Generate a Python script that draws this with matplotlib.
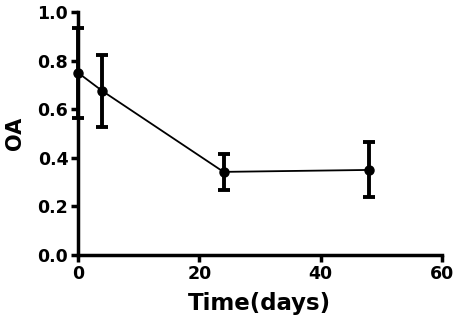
import matplotlib
matplotlib.use("Agg")
import matplotlib.pyplot as plt

time_days = [0, 4, 24, 48]
oa_mean = [0.75, 0.675, 0.342, 0.35]
oa_err = [0.185, 0.147, 0.075, 0.113]
x_ticks = [0, 20, 40, 60]
y_ticks = [0.0, 0.2, 0.4, 0.6, 0.8, 1.0]

plt.rcParams['font.family'] = ['DejaVu Sans']
plt.rcParams['font.weight'] = 'bold'

fig = plt.figure(figsize=(4.56, 3.22), dpi=100)
ax = fig.add_axes([0.171, 0.208, 0.798, 0.755])

ax.errorbar(time_days, oa_mean, yerr=oa_err, color='black', marker='o', markersize=6.5,
            linewidth=1.3, elinewidth=2.8, capsize=4.5, capthick=2.8, clip_on=False, zorder=3)

ax.set_xlim(0, 60)
ax.set_ylim(0, 1.0)
ax.set_xticks(x_ticks)
ax.set_yticks(y_ticks)
ax.set_yticklabels([f"{v:.1f}" for v in y_ticks])
for s in ['top', 'right']:
    ax.spines[s].set_visible(False)
for s in ['left', 'bottom']:
    ax.spines[s].set_linewidth(2.5)
ax.tick_params(width=2.5, length=5, labelsize=12.5, direction='out', pad=2)
for lab in ax.get_xticklabels() + ax.get_yticklabels():
    lab.set_fontweight('bold')
ax.set_xlabel('Time(days)', fontsize=16.5, fontweight='bold', labelpad=7)
ax.set_ylabel('OA', fontsize=15, fontweight='bold', labelpad=9)

fig.savefig('out.png', dpi=100)
